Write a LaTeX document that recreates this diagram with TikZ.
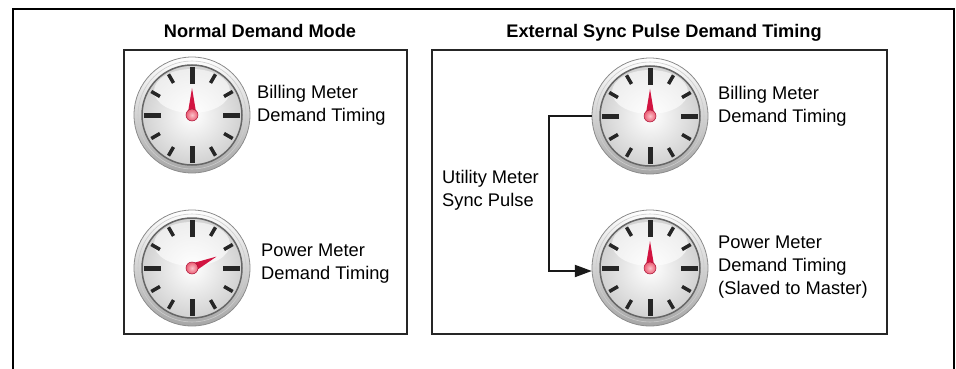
\documentclass[tikz,border=0pt]{standalone}
\usepackage{fontspec}
\setmainfont{Liberation Sans}
\usetikzlibrary{arrows.meta}
\definecolor{handRed}{RGB}{210,20,65}
\definecolor{hubPink}{RGB}{245,120,135}

\begin{document}
\begin{tikzpicture}[x=1pt,y=-1pt]
	\tikzstyle{every node}=[inner sep=0pt, font=\fontsize{18.3}{23}\selectfont]
	\tikzstyle{title}=[font=\fontsize{18.2}{22}\selectfont\bfseries, anchor=base]
	\tikzstyle{meterText}=[align=left, anchor=north west]
	\tikzstyle{panel}=[draw=black!85, line width=2.7pt]
	\tikzstyle{clock}=[circle, minimum size=116pt]
	\tikzstyle{tick}=[draw=black!85]
	\tikzstyle{pulse}=[draw=black!90, line width=2pt, -{Triangle[length=17pt,width=12pt]}]
	\useasboundingbox (0,0) rectangle (956,369);
	% frame and panels
	\draw[line width=2.5pt] (13,369) -- (13,9) -- (954,9) -- (954,369);
	\draw[panel] (124,50) rectangle (407,334);
	\draw[panel] (432,50) rectangle (887,334);
	\node[title] (normTitle) at (260,38) {Normal Demand Mode};
	\node[title] (syncTitle) at (664,38) {External Sync Pulse Demand Timing};
	% clocks
	\foreach \name/\cx/\cy/\hand in {bill1/192/115/-90, power1/192/268/-25, bill2/650/116/-90, power2/650/268/-90} {
		\begin{scope}[shift={(\cx,\cy)}]
			\shade[top color=white, bottom color=black!35] (0,0) circle (58pt);
			\draw[black!45, line width=0.8pt] (0,0) circle (58pt);
			\draw[black!20, line width=0.6pt] (0,0) circle (54pt);
			\shade[inner color=white, outer color=black!18] (0,0) circle (50pt);
			\fill[white, opacity=0.6] (0,-24) ellipse (38pt and 22pt);
			\draw[black!60, line width=1.5pt] (0,0) circle (50pt);
			\foreach \t in {0,90,180,270}
				\draw[tick, line width=5pt] (\t:31) -- (\t:48);
			\foreach \t in {30,60,120,150,210,240,300,330}
				\draw[tick, line width=3.5pt] (\t:37) -- (\t:47);
			\fill[handRed] (\hand+90:4.5) -- (\hand:27) -- (\hand-90:4.5) -- cycle;
			\shade[inner color=hubPink!45!white, outer color=hubPink!70!handRed] (0,0) circle (6pt);
			\draw[handRed!80!black, line width=0.5pt] (0,0) circle (6pt);
		\end{scope}
		\node[clock] (\name) at (\cx,\cy) {};
	}
	% texts
	\node[meterText] (billText1) at (257,85) {Billing Meter\\Demand Timing};
	\node[meterText] (powerText1) at (261,244) {Power Meter\\Demand Timing};
	\node[meterText] (billText2) at (718,86) {Billing Meter\\Demand Timing};
	\node[meterText] (powerText2) at (718,236) {Power Meter\\Demand Timing\\(Slaved to Master)};
	\node[meterText] (pulseText) at (442,170) {Utility Meter\\Sync Pulse};
	% sync pulse
	\coordinate (bend) at (549,116);
	\draw[pulse] (bill2.west) -- (bend) |- ([yshift=-3pt]power2.west);
\end{tikzpicture}
\end{document}
